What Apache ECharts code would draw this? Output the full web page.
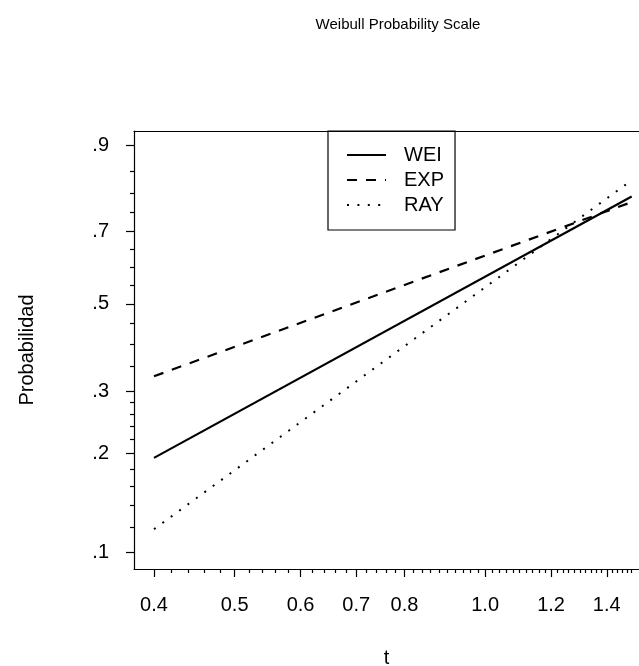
<!DOCTYPE html>
<html>
<head>
<meta charset="utf-8">
<title>Weibull Probability Scale</title>
<script src="https://cdn.jsdelivr.net/npm/echarts@6/dist/echarts.min.js"></script>
<style>
    html, body { margin: 0; padding: 0; background: #fff; }
    #chart { width: 639px; height: 666px; }
</style>
</head>
<body>
<div id="chart"></div>
<script>
// 数据
const tValues = [0.4, 1.5];
const weiProb = [0.194, 0.791];
const expProb = [0.330, 0.777];
const rayProb = [0.118, 0.830];

// 坐标轴刻度
const xTicks = [0.4, 0.5, 0.6, 0.7, 0.8, 1.0, 1.2, 1.4];
const xTickLabels = ['0.4', '0.5', '0.6', '0.7', '0.8', '1.0', '1.2', '1.4'];
const xMinorTicks = [0.42, 0.44, 0.46, 0.48, 0.52, 0.54, 0.56, 0.58, 0.62, 0.64, 0.66, 0.68,
    0.72, 0.74, 0.76, 0.78, 0.82, 0.84, 0.86, 0.88, 0.9, 0.92, 0.94, 0.96, 0.98,
    1.02, 1.04, 1.06, 1.08, 1.1, 1.12, 1.14, 1.16, 1.18, 1.22, 1.24, 1.26, 1.28,
    1.3, 1.32, 1.34, 1.36, 1.38, 1.42, 1.44, 1.46, 1.48, 1.5];
const yTicks = [0.1, 0.2, 0.3, 0.5, 0.7, 0.9];
const yTickLabels = ['.1', '.2', '.3', '.5', '.7', '.9'];
const yMinorTicks = [0.12, 0.14, 0.16, 0.18, 0.22, 0.24, 0.26, 0.28, 0.35, 0.4, 0.45,
    0.55, 0.6, 0.65, 0.75, 0.8, 0.85];

// Weibull 概率纸变换
function weib(p) {
    return Math.log(-Math.log(1 - p));
}

function toPoints(probs) {
    return tValues.map((t, i) => [Math.log(t), weib(probs[i])]);
}

function nearestLabel(value, ticks, labels, fn) {
    let best = 0;
    ticks.forEach((v, i) => {
        if (Math.abs(fn(v) - value) < Math.abs(fn(ticks[best]) - value)) best = i;
    });
    return labels[best];
}

const FONT = '"Liberation Sans", Arial, Helvetica, sans-serif';
// 绘图区右边框在画布外，这里只画到画布边缘
const xMin = -0.9716, xMax = 0.4257;
const yMin = -2.3771, yMax = 0.9454;
const LINE_W = 1.2;

document.addEventListener('DOMContentLoaded', function() {
    const chart = echarts.init(document.getElementById('chart'), null, { renderer: 'canvas' });

    const option = {
        backgroundColor: '#fff',
        animation: false,
        textStyle: { fontFamily: FONT, color: '#000' },
        title: {
            text: 'Weibull Probability Scale',
            left: 393,
            top: 12,
            textAlign: 'center',
            textStyle: { fontFamily: FONT, fontSize: 15, fontWeight: 'normal', color: '#000' }
        },
        grid: {
            left: 134,
            top: 131,
            right: 0,
            height: 438,
            outerBoundsMode: 'none',
            containLabel: false,
            show: false
        },
        legend: {
            left: 328,
            top: 131,
            orient: 'vertical',
            borderColor: '#000',
            borderWidth: LINE_W,
            padding: [14, 11, 15, 18],
            itemWidth: 39,
            itemHeight: 14,
            itemGap: 5,
            itemStyle: { opacity: 0 },
            textStyle: { fontFamily: FONT, fontSize: 20, color: '#000', padding: [0, 0, 0, 13] },
            data: ['WEI', 'EXP', 'RAY']
        },
        xAxis: [
            {
                type: 'value',
                min: xMin,
                max: xMax,
                name: 't',
                nameLocation: 'middle',
                nameGap: 79,
                nameTextStyle: { fontFamily: FONT, fontSize: 20, color: '#000' },
                splitLine: { show: false },
                axisLine: { show: true, onZero: false, lineStyle: { color: '#000', width: LINE_W } },
                axisTick: {
                    show: true,
                    length: 8,
                    lineStyle: { color: '#000', width: LINE_W },
                    customValues: xTicks.map(Math.log)
                },
                axisLabel: {
                    margin: 26,
                    fontFamily: FONT,
                    fontSize: 20,
                    color: '#000',
                    customValues: xTicks.map(Math.log),
                    formatter: v => nearestLabel(v, xTicks, xTickLabels, Math.log)
                }
            },
            {
                // 次刻度
                type: 'value',
                min: xMin,
                max: xMax,
                position: 'bottom',
                splitLine: { show: false },
                axisLine: { show: false, onZero: false },
                axisTick: {
                    show: true,
                    length: 4,
                    lineStyle: { color: '#000', width: LINE_W },
                    customValues: xMinorTicks.map(Math.log)
                },
                axisLabel: { show: false }
            },
            {
                // 上边框
                type: 'value',
                min: xMin,
                max: xMax,
                position: 'top',
                splitLine: { show: false },
                axisLine: { show: true, onZero: false, lineStyle: { color: '#000', width: LINE_W } },
                axisTick: { show: false },
                axisLabel: { show: false }
            }
        ],
        yAxis: [
            {
                type: 'value',
                min: yMin,
                max: yMax,
                name: 'Probabilidad',
                nameLocation: 'middle',
                nameGap: 97,
                nameRotate: 90,
                nameTextStyle: { fontFamily: FONT, fontSize: 20, color: '#000' },
                splitLine: { show: false },
                axisLine: { show: true, onZero: false, lineStyle: { color: '#000', width: LINE_W } },
                axisTick: {
                    show: true,
                    length: 8,
                    lineStyle: { color: '#000', width: LINE_W },
                    customValues: yTicks.map(weib)
                },
                axisLabel: {
                    margin: 25,
                    fontFamily: FONT,
                    fontSize: 20,
                    color: '#000',
                    padding: [5, 0, 0, 0],
                    customValues: yTicks.map(weib),
                    formatter: v => nearestLabel(v, yTicks, yTickLabels, weib)
                }
            },
            {
                // 次刻度
                type: 'value',
                min: yMin,
                max: yMax,
                position: 'left',
                splitLine: { show: false },
                axisLine: { show: false, onZero: false },
                axisTick: {
                    show: true,
                    length: 4,
                    lineStyle: { color: '#000', width: LINE_W },
                    customValues: yMinorTicks.map(weib)
                },
                axisLabel: { show: false }
            }
        ],
        series: [
            {
                name: 'WEI',
                type: 'line',
                symbol: 'none',
                data: toPoints(weiProb),
                lineStyle: { color: '#000', width: 2.2, type: 'solid' },
                itemStyle: { color: '#000' }
            },
            {
                name: 'EXP',
                type: 'line',
                symbol: 'none',
                data: toPoints(expProb),
                lineStyle: { color: '#000', width: 2.2, type: [10, 9] },
                itemStyle: { color: '#000' }
            },
            {
                name: 'RAY',
                type: 'line',
                symbol: 'none',
                data: toPoints(rayProb),
                lineStyle: { color: '#000', width: 2, type: [2, 8.4] },
                itemStyle: { color: '#000' }
            }
        ]
    };

    chart.setOption(option);
});
</script>
</body>
</html>
